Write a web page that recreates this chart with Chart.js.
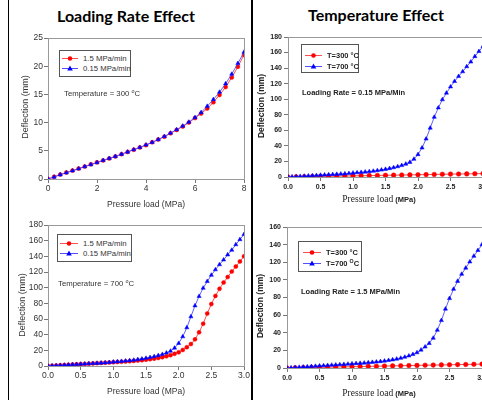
<!DOCTYPE html>
<html lang="en">
<head>
<meta charset="UTF-8">
<title>Loading Rate and Temperature Effect</title>
<script src="https://cdn.jsdelivr.net/npm/chart.js"></script>
<style>
  html, body { margin: 0; padding: 0; overflow: hidden; background: #fff; }
  body {
    position: relative;
    width: 482px;
    height: 400px;
    font-family: "Liberation Sans", Arial, sans-serif;
    color: #222;
  }
  canvas { position: absolute; }
  .rule { position: absolute; top: 0; height: 400px; background: #000; }
  .heading {
    position: absolute;
    transform: translate(-50%, -50%);
    font-family: Lato, sans-serif;
    font-weight: bold;
    font-size: 16px;
    white-space: nowrap;
    color: #000;
  }
  .ytitle { position: absolute; transform: translate(-50%, -50%) rotate(-90deg); white-space: nowrap; }
  .xtitle { position: absolute; transform: translate(-50%, -50%); white-space: nowrap; }
  .note { position: absolute; transform: translateY(-50%); white-space: nowrap; }
  .legend { position: absolute; border: 1px solid #555; background: #fff; box-sizing: border-box; }
  .legend .row { position: absolute; display: flex; align-items: center; white-space: nowrap; transform: translateY(-50%); }
  .legend svg { display: block; margin-right: 5px; }
  .lt { font-size: 8.5px; color: #333; }
  .rt { font-size: 7.5px; font-weight: bold; color: #222; }
  .small { font-size: 7.75px; }
  .serif { font-family: "Liberation Serif", "Times New Roman", serif; font-weight: normal; font-size: 9.5px; }
  sup { font-size: 70%; vertical-align: 0.45em; line-height: 0; }
</style>
</head>
<body>
  <div class="rule" style="left:8px;width:1px"></div>
  <div class="rule" style="left:251px;width:2px"></div>

  <div class="heading" style="left:126px;top:15px">Loading Rate Effect</div>
  <div class="heading" style="left:376px;top:14px">Temperature Effect</div>

  <canvas id="rate300" width="244" height="181" style="left:10px;top:28px"></canvas>
  <canvas id="temp015" width="239" height="170" style="left:254px;top:27px"></canvas>
  <canvas id="rate700" width="244" height="181" style="left:10px;top:215px"></canvas>
  <canvas id="temp15" width="238" height="171" style="left:254px;top:217px"></canvas>

  <!-- axis titles -->
  <div class="ytitle lt" style="left:25px;top:107px;font-size:9px">Deflection (mm)</div>
  <div class="xtitle lt" style="left:146px;top:204px">Pressure load (MPa)</div>
  <div class="ytitle lt" style="left:22px;top:305px;font-size:9px">Deflection (mm)</div>
  <div class="xtitle lt" style="left:146px;top:391px">Pressure load (MPa)</div>
  <div class="ytitle rt" style="left:261px;top:106px;font-size:8.5px">Deflection (mm)</div>
  <div class="xtitle rt" style="left:379px;top:199px"><span class="serif">Pressure load</span> (MPa)</div>
  <div class="ytitle rt" style="left:260px;top:306px;font-size:8.5px">Deflection (mm)</div>
  <div class="xtitle rt" style="left:379px;top:393px"><span class="serif">Pressure load</span> (MPa)</div>

  <!-- legends -->
  <div class="legend lt small" style="left:59px;top:50px;width:72px;height:27px">
    <div class="row" style="left:2px;top:7px">
      <svg width="16" height="8"><line x1="0" y1="4" x2="16" y2="4" stroke="#ff5050"/><circle cx="8" cy="4" r="2.2" fill="#f00"/></svg><span>1.5 MPa/min</span>
    </div>
    <div class="row" style="left:2px;top:17px">
      <svg width="16" height="8"><line x1="0" y1="4" x2="16" y2="4" stroke="#5050ff"/><polygon points="8,1 10.8,6 5.2,6" fill="#00f"/></svg><span>0.15 MPa/min</span>
    </div>
  </div>
  <div class="note lt small" style="left:64px;top:93px">Temperature = 300 <sup>o</sup>C</div>

  <div class="legend lt small" style="left:57px;top:234px;width:75px;height:28px">
    <div class="row" style="left:2px;top:8px">
      <svg width="18" height="8"><line x1="0" y1="4" x2="18" y2="4" stroke="#ff5050"/><circle cx="9" cy="4" r="2.2" fill="#f00"/></svg><span>1.5 MPa/min</span>
    </div>
    <div class="row" style="left:2px;top:18px">
      <svg width="18" height="8"><line x1="0" y1="4" x2="18" y2="4" stroke="#5050ff"/><polygon points="9,1 11.8,6 6.2,6" fill="#00f"/></svg><span>0.15 MPa/min</span>
    </div>
  </div>
  <div class="note lt small" style="left:58px;top:283px">Temperature = 700 <sup>o</sup>C</div>

  <div class="legend rt" style="left:301px;top:44px;width:58px;height:29px">
    <div class="row" style="left:3px;top:10px">
      <svg width="17" height="8"><line x1="0" y1="4" x2="17" y2="4" stroke="#ff5050"/><circle cx="8.5" cy="4" r="2.3" fill="#f00"/></svg><span>T=300 °C</span>
    </div>
    <div class="row" style="left:3px;top:21px">
      <svg width="17" height="8"><line x1="0" y1="4" x2="17" y2="4" stroke="#5050ff"/><polygon points="8.5,1 11.3,6 5.7,6" fill="#00f"/></svg><span>T=700 °C</span>
    </div>
  </div>
  <div class="note rt" style="left:302px;top:92px">Loading Rate = 0.15 MPa/Min</div>

  <div class="legend rt" style="left:298px;top:241px;width:64px;height:31px">
    <div class="row" style="left:4px;top:10px">
      <svg width="18" height="8"><line x1="0" y1="4" x2="18" y2="4" stroke="#ff5050"/><circle cx="9" cy="4" r="2.3" fill="#f00"/></svg><span>T=300 °C</span>
    </div>
    <div class="row" style="left:4px;top:21px">
      <svg width="18" height="8"><line x1="0" y1="4" x2="18" y2="4" stroke="#5050ff"/><polygon points="9,1 11.8,6 6.2,6" fill="#00f"/></svg><span>T=700 <sup>O</sup>C</span>
    </div>
  </div>
  <div class="note rt" style="left:301px;top:291px">Loading Rate = 1.5 MPa/Min</div>

  <script>
    // 300 C, loading rate comparison, 0 - 8 MPa
    const load300 = [0, 0.25, 0.5, 0.75, 1, 1.25, 1.5, 1.75, 2, 2.25, 2.5, 2.75, 3, 3.25, 3.5, 3.75,
      4, 4.25, 4.5, 4.75, 5, 5.25, 5.5, 5.75, 6, 6.25, 6.5, 6.75, 7, 7.25, 7.5, 7.75, 8];
    const defl300Fast = [0, 0.4, 0.8, 1.15, 1.5, 1.85, 2.2, 2.6, 2.95, 3.3, 3.65, 4.0, 4.4, 4.8, 5.2, 5.6,
      6.0, 6.5, 7.0, 7.5, 8.1, 8.7, 9.3, 10.0, 10.8, 11.6, 12.5, 13.6, 14.9, 16.3, 18.0, 19.9, 22.0];
    const defl300Slow = [0, 0.35, 0.75, 1.1, 1.45, 1.8, 2.2, 2.55, 2.9, 3.3, 3.65, 4.0, 4.4, 4.8, 5.2, 5.6,
      6.05, 6.5, 7.0, 7.55, 8.15, 8.75, 9.4, 10.1, 10.9, 11.8, 12.9, 14.1, 15.4, 16.9, 18.6, 20.5, 22.5];

    // 300 C curves on the temperature panels, 0 - 3 MPa
    const loadT300 = [0, 0.125, 0.25, 0.375, 0.5, 0.625, 0.75, 0.875, 1, 1.125, 1.25, 1.375, 1.5,
      1.625, 1.75, 1.875, 2, 2.125, 2.25, 2.375, 2.5, 2.625, 2.75, 2.875, 3];
    const deflT300Slow = [0, 0.2, 0.4, 0.55, 0.75, 0.95, 1.1, 1.3, 1.45, 1.65, 1.8, 2.0, 2.2,
      2.35, 2.55, 2.75, 2.9, 3.1, 3.3, 3.5, 3.7, 3.85, 4.0, 4.2, 4.4];
    const deflT300Fast = [0, 0.2, 0.4, 0.6, 0.8, 0.95, 1.15, 1.3, 1.5, 1.65, 1.85, 2.0, 2.2,
      2.4, 2.6, 2.75, 2.95, 3.15, 3.3, 3.5, 3.65, 3.85, 4.0, 4.2, 4.4];

    // 700 C curves, 0 - 3 MPa
    const load700 = [0, 0.0625, 0.125, 0.1875, 0.25, 0.3125, 0.375, 0.4375, 0.5, 0.5625, 0.625, 0.6875,
      0.75, 0.8125, 0.875, 0.9375, 1, 1.0625, 1.125, 1.1875, 1.25, 1.3125, 1.375, 1.4375, 1.5, 1.5625,
      1.625, 1.6875, 1.75, 1.8125, 1.875, 1.9375, 2, 2.0625, 2.125, 2.1875, 2.25, 2.3125, 2.375, 2.4375,
      2.5, 2.5625, 2.625, 2.6875, 2.75, 2.8125, 2.875, 2.9375, 3];
    const defl700Slow = [0, 0.3, 0.6, 0.9, 1.2, 1.5, 1.8, 2.1, 2.4, 2.7, 3.0, 3.3, 3.6, 3.9, 4.2, 4.6, 5.2,
      5.6, 6.0, 6.5, 7.0, 7.6, 8.3, 9.1, 10.0, 11.0, 12.1, 13.4, 14.9, 16.7, 19.0, 23.0, 29,
      37.5, 49, 63, 77, 89, 99.5, 108, 116, 123, 129.5, 135.5, 142, 148, 155, 161.5, 168];
    const defl700Fast = [0, 0.3, 0.6, 0.9, 1.2, 1.5, 1.8, 2.1, 2.4, 2.7, 3.0, 3.3, 3.6, 3.9, 4.2, 4.5, 4.8,
      5.1, 5.4, 5.7, 6.1, 6.5, 6.9, 7.4, 8.0, 8.7, 9.4, 10.2, 11.2, 12.4, 13.8, 15.5, 17.5,
      20.5, 24, 28, 34, 43, 54, 67, 79, 89.5, 98.5, 106.5, 113.5, 120.5, 127, 133.5, 140];

    const RED = '#ff0000';
    const BLUE = '#0000ff';

    // grey box round the plot area
    const framePlugin = {
      id: 'frame',
      beforeDatasetsDraw(chart) {
        const a = chart.chartArea;
        const ctx = chart.ctx;
        ctx.save();
        ctx.strokeStyle = '#999';
        ctx.lineWidth = 1;
        ctx.strokeRect(Math.round(a.left) + 0.5, Math.round(a.top) + 0.5, Math.round(a.width), Math.round(a.height));
        ctx.restore();
      }
    };

    function series(xs, ys, color, lineColor, shape, radius) {
      return {
        data: xs.map((x, i) => ({ x: x, y: ys[i] })),
        borderColor: lineColor,
        borderWidth: 1,
        pointStyle: shape,
        pointRadius: radius,
        pointBackgroundColor: color,
        pointBorderColor: color,
        pointBorderWidth: 0.5,
        tension: 0
      };
    }

    function buildChart(id, spec, datasets) {
      const tickFont = spec.right
        ? { family: 'Liberation Sans', size: 7, weight: 'bold' }
        : { family: 'Liberation Sans', size: 8.5 };
      const tickColor = spec.right ? '#222' : '#333';
      return new Chart(document.getElementById(id), {
        type: 'line',
        data: { datasets: datasets },
        options: {
          responsive: false,
          animation: false,
          events: [],
          layout: { padding: { top: 10, right: 10, left: 0, bottom: 0 } },
          plugins: { legend: { display: false }, tooltip: { enabled: false } },
          scales: {
            x: {
              type: 'linear',
              min: 0,
              max: spec.xMax,
              afterFit: s => { s.height = spec.xHeight; },
              border: { color: '#777' },
              grid: { drawOnChartArea: false, tickLength: 4, color: '#777' },
              ticks: {
                stepSize: spec.xStep,
                autoSkip: false,
                maxRotation: 0,
                padding: spec.right ? 2 : 1,
                font: tickFont,
                color: tickColor,
                callback: v => spec.xStep < 1 ? v.toFixed(1) : String(v)
              }
            },
            y: {
              min: 0,
              max: spec.yMax,
              afterFit: s => { s.width = spec.yWidth; },
              border: { color: '#777' },
              grid: { drawOnChartArea: false, tickLength: 4, color: '#777' },
              ticks: {
                stepSize: spec.yStep,
                autoSkip: false,
                padding: spec.right ? 2 : 1,
                font: tickFont,
                color: tickColor
              }
            }
          }
        },
        plugins: [framePlugin]
      });
    }

    buildChart('rate300', { xMax: 8, xStep: 2, yMax: 25, yStep: 5, yWidth: 38, xHeight: 30 }, [
      series(load300, defl300Slow, BLUE, 'rgba(80,80,255,0.9)', 'triangle', 2.4),
      series(load300, defl300Fast, RED, 'rgba(255,60,60,0.9)', 'circle', 2)
    ]);

    buildChart('temp015', { xMax: 3, xStep: 0.5, yMax: 180, yStep: 20, yWidth: 34, xHeight: 20, right: true }, [
      series(load700, defl700Slow, BLUE, 'rgba(80,80,255,0.9)', 'triangle', 2.4),
      series(loadT300, deflT300Slow, RED, 'rgba(255,60,60,0.9)', 'circle', 2.3)
    ]);

    buildChart('rate700', { xMax: 3, xStep: 0.5, yMax: 180, yStep: 20, yWidth: 38, xHeight: 30 }, [
      series(load700, defl700Slow, BLUE, 'rgba(80,80,255,0.9)', 'triangle', 2.4),
      series(load700, defl700Fast, RED, 'rgba(255,60,60,0.9)', 'circle', 2)
    ]);

    buildChart('temp15', { xMax: 3, xStep: 0.5, yMax: 160, yStep: 20, yWidth: 33, xHeight: 20, right: true }, [
      series(load700, defl700Fast, BLUE, 'rgba(80,80,255,0.9)', 'triangle', 2.4),
      series(loadT300, deflT300Fast, RED, 'rgba(255,60,60,0.9)', 'circle', 2.3)
    ]);
  </script>
</body>
</html>
